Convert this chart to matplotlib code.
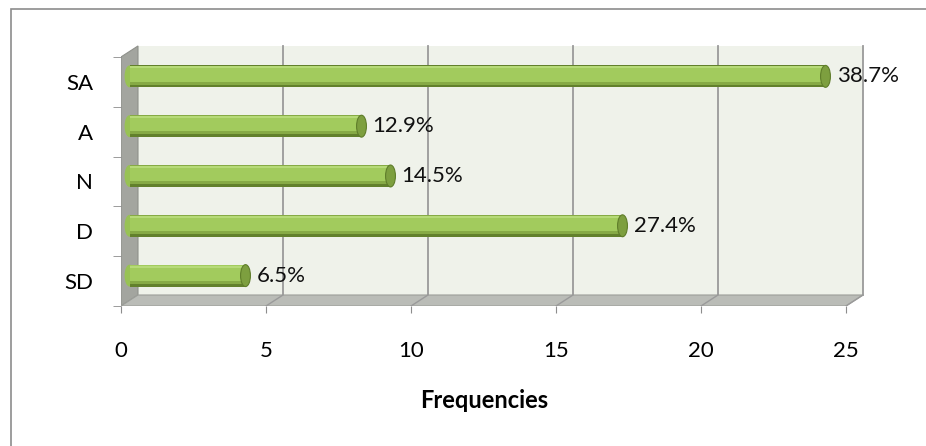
import numpy as np
import matplotlib
matplotlib.use("Agg")
import matplotlib.pyplot as plt
from matplotlib.patches import Polygon, Rectangle, Ellipse

plt.rcParams['font.family'] = ['Lato', 'DejaVu Sans']

categories = ['SD', 'D', 'N', 'A', 'SA']
freqs = [4, 17, 9, 8, 24]
pct_labels = ['6.5%', '27.4%', '14.5%', '12.9%', '38.7%']
xticks = [0, 5, 10, 15, 20, 25]

W, H = 926, 446
fig = plt.figure(figsize=(W / 100, H / 100), dpi=100)

# outer chart border
fig.add_artist(Rectangle((11 / W, -0.1), 2, 1 - 9 / H + 0.1, transform=fig.transFigure,
                         fill=False, edgecolor='#8c8c8c', linewidth=1.2))

ax = fig.add_axes([121 / W, (H - 306) / H, 754 / W, (306 - 44.5) / H])
ax.set_xlim(0, 26)
ax.set_ylim(-0.5, 4.75)
for s in ax.spines.values():
    s.set_visible(False)
ax.patch.set_visible(False)

# depth of the pseudo-3d box in data units
dx, dy = 17 / 29, 11 / 49.8

# back wall
ax.add_patch(Rectangle((dx, -0.5 + dy), 25, 5, facecolor='#eff2ea', edgecolor='none', zorder=0))
for t in xticks[1:]:
    ax.plot([t + dx, t + dx], [-0.5 + dy, 4.5 + dy], color='#9a9a9a', lw=1.3, zorder=1)
# left wall
ax.add_patch(Polygon([(0, -0.5), (dx, -0.5 + dy), (dx, 4.5 + dy), (0, 4.5)],
                     closed=True, facecolor='#a3a59f', edgecolor='#8f918b', lw=0.8, zorder=1))
# floor
ax.add_patch(Polygon([(0, -0.5), (25, -0.5), (25 + dx, -0.5 + dy), (dx, -0.5 + dy)],
                     closed=True, facecolor='#babcb7', edgecolor='#9c9e99', lw=0.8, zorder=1))
for t in xticks[1:]:
    ax.plot([t, t + dx], [-0.5, -0.5 + dy], color='#9a9a9a', lw=1, zorder=2)

# cylinder bars
y = np.arange(len(categories)) + dy / 2
left = dx / 2
ax.barh(y, freqs, height=0.44, left=left, color='#62802c', zorder=3)
ax.barh(y + 0.025, freqs, height=0.38, left=left, color='#86aa45', zorder=4)
ax.barh(y + 0.05, freqs, height=0.31, left=left, color='#a2cb5d', zorder=5)
ax.barh(y + 0.18, freqs, height=0.04, left=left, color='#b6da78', zorder=5)
for yi, v in zip(y, freqs):
    ax.add_patch(Ellipse((left + v, yi), 0.34, 0.44, facecolor='#7d9f3f',
                         edgecolor='#5f7d2a', lw=0.8, zorder=6))
    ax.add_patch(Ellipse((left, yi), 0.34, 0.44, facecolor='#98c254',
                         edgecolor='none', zorder=2.5))

for yi, v, lab in zip(y, freqs, pct_labels):
    ax.text(left + v + 0.38, yi, lab, va='center', ha='left', fontsize=16, color='#111111', zorder=7)

ax.set_xticks(xticks)
ax.set_xticklabels([str(t) for t in xticks])
ax.set_yticks(range(len(categories)))
ax.set_yticklabels(categories)
ax.set_yticks(np.arange(-0.5, 5, 1), minor=True)
ax.tick_params(axis='x', which='major', length=5, color='#8c8c8c', pad=20, labelsize=16)
ax.tick_params(axis='y', which='major', length=0, pad=20, labelsize=16)
ax.tick_params(axis='y', which='minor', length=6, color='#8c8c8c')

fig.text(484 / W, 1 - 401 / H, 'Frequencies', ha='center', va='center',
         fontsize=17, fontweight='bold')

fig.savefig('out.png', dpi=100)
